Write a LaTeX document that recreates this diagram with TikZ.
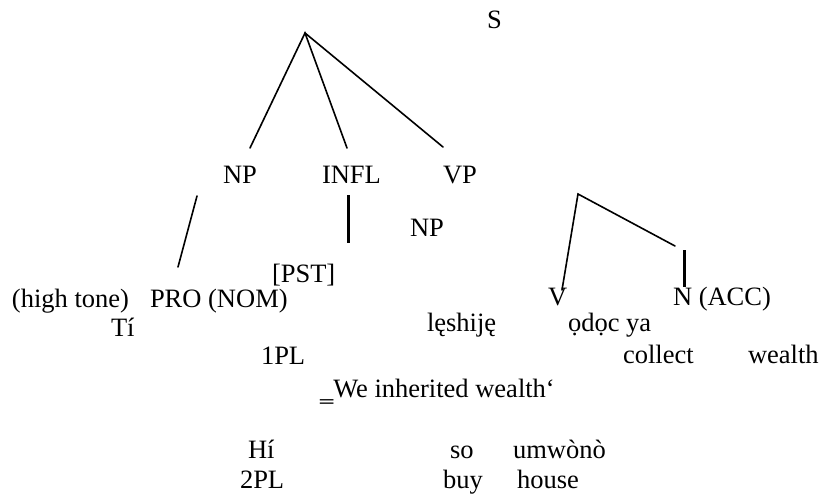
\documentclass[tikz,border=0pt]{standalone}
\usepackage{fontspec}
\setmainfont{Liberation Serif}
\begin{document}
\begin{tikzpicture}[x=1pt,y=-1pt,
  lbl/.style={anchor=base west,inner sep=0pt,outer sep=0pt,font=\fontsize{26.5}{26.5}\selectfont},
  branch/.style={line width=1.6pt,line cap=round},
  bar/.style={line width=3pt}]
\useasboundingbox[fill=white] (0,0) rectangle (822,493);

% labels
\node[lbl] (S) at (487,28) {S};
\node[lbl] (NP) at (223,183) {NP};
\node[lbl] (INFL) at (322,183) {INFL};
\node[lbl] (VP) at (443,183) {VP};
\node[lbl] (NP2) at (410,236) {NP};
\node[lbl] (PST) at (272,282) {[PST]};
\node[lbl] (HT) at (12,307) {(high tone)};
\node[lbl] (PRO) at (150,307) {PRO (NOM)};
\node[lbl] (V) at (548,305) {V};
\node[lbl] (NACC) at (673,305) {N (ACC)};
\node[lbl] (Ti) at (111,336) {Tí};
\node[lbl] (lesh) at (427,331) {lęshiję};
\node[lbl] (odoc) at (568,331) {ọdọc ya};
\node[lbl] (OnePL) at (261,364) {1PL};
\node[lbl] (collect) at (623,363) {collect};
\node[lbl] (wealth) at (748,363) {wealth};
\node[lbl] (gloss) at (320,397) {‗We inherited wealth‘};
\node[lbl] (Hi) at (248,458) {Hí};
\node[lbl] (so) at (450,458) {so};
\node[lbl] (umw) at (513,458) {umwònò};
\node[lbl] (TwoPL) at (240,488) {2PL};
\node[lbl] (buy) at (443,488) {buy};
\node[lbl] (house) at (517,488) {house};

% branch points
\coordinate (top) at (305,33);
\coordinate (eNP) at (250,148);
\coordinate (eINFL) at (347,148);
\coordinate (eVP) at (443,147);
\coordinate (p1) at (197,196);
\coordinate (p2) at (178,267);
\coordinate (b1) at (348,195);
\coordinate (b2) at (348,243);
\coordinate (rtop) at (578,194);
\coordinate (rV) at (562,290);
\coordinate (rN) at (675,246);
\coordinate (n1) at (684,250);
\coordinate (n2) at (684,287);

\draw[branch] (eNP) -- (top) -- (eINFL);
\draw[branch] (top) -- (eVP);
\draw[branch] (p1) -- (p2);
\draw[bar] (b1) -- (b2);
\draw[branch] (rV) -- (rtop) -- (rN);
\draw[bar] (n1) -- (n2);
\end{tikzpicture}
\end{document}
